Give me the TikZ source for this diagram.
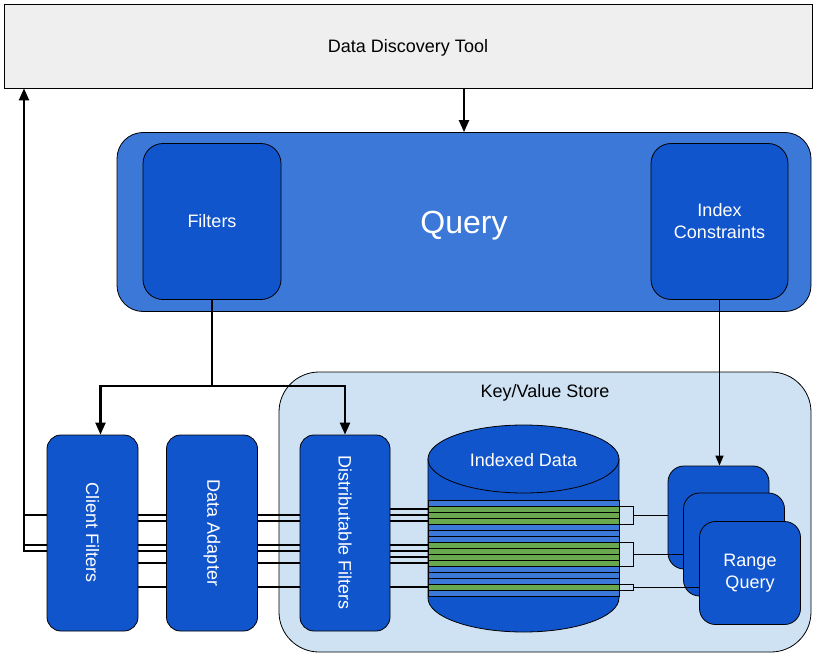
\documentclass[tikz,border=0pt]{standalone}
\usepackage{fontspec}
\setmainfont{Liberation Sans}
\usetikzlibrary{arrows.meta,positioning}
\definecolor{toolgray}{HTML}{EFEFEF}
\definecolor{qblue}{HTML}{3C78D8}
\definecolor{dblue}{HTML}{1155CC}
\definecolor{kvblue}{HTML}{CFE2F3}
\definecolor{sgreen}{HTML}{6AA84F}
\pgfdeclarelayer{back}
\pgfdeclarelayer{wires}
\pgfsetlayers{back,wires,main}

\begin{document}
\begin{tikzpicture}[x=1pt,y=-1pt,
    every node/.style={font=\fontsize{18}{22}\selectfont},
    box/.style={draw,line width=0.8pt,fill=dblue,text=white,inner sep=0pt,rounded corners=16pt},
    upright/.style={box,minimum width=91pt,minimum height=196pt,rounded corners=14pt},
    rangebox/.style={box,minimum width=101pt,minimum height=103pt},
    wire/.style={line width=2.2pt},
    fine wire/.style={line width=0.8pt},
    arr/.style={-{Triangle[length=12pt,width=10pt]}}]
    \useasboundingbox (0,0) rectangle (817,658);

    % top level
    \node[draw,line width=0.8pt,fill=toolgray,minimum width=808pt,minimum height=84pt,text depth=0pt] (ddt) at (408,46) {Data Discovery Tool};
    \node[box,fill=qblue,rounded corners=26pt,minimum width=694pt,minimum height=179pt,text depth=0pt,font=\fontsize{32}{38}\selectfont] (query) at (464,222) {Query};
    \node[box,minimum width=138pt,minimum height=156pt,rounded corners=20pt] (filt) at (212,221.5) {Filters};
    \node[box,minimum width=137pt,minimum height=156pt,rounded corners=20pt,align=center] (idx) at (719.5,221.5) {Index\\Constraints};
    \draw[wire,arr] (query.north |- ddt.south) -- (query.north);

    % key/value store
    \begin{pgfonlayer}{back}
        \node[draw,line width=0.8pt,fill=kvblue,rounded corners=40pt,minimum width=532pt,minimum height=280pt] (kv) at (545,512) {};
    \end{pgfonlayer}
    \node (kvlabel) at ([yshift=-21pt]kv.north) {Key/Value Store};

    \node[upright,label={[rotate=-90,text=white]center:Client Filters}] (cf) at (92.5,533) {};
    \node[upright,label={[rotate=-90,text=white]center:Data Adapter}] (da) at (212,533) {};
    \node[upright,minimum width=90pt,label={[rotate=-90,text=white]center:Distributable Filters}] (dfl) at (345,533) {};

    % indexed data
    \filldraw[fill=dblue,line width=0.8pt] (428,459) -- (428,598) arc[start angle=180,end angle=0,x radius=95.5,y radius=34] -- (619,459) -- cycle;
    \filldraw[fill=dblue,line width=0.8pt] (523.5,459) ellipse [x radius=95.5,y radius=34];
    \node[text=white] (cyl) at (523.5,460) {Indexed Data};
    \foreach \c [count=\i] in {qblue,sgreen,sgreen,sgreen,qblue,qblue,qblue,sgreen,sgreen,sgreen,sgreen,qblue,qblue,qblue,sgreen,qblue}
        \draw[fill=\c,line width=0.8pt] (428,{494+6*\i}) rectangle (619,{500+6*\i});
    \foreach \y [count=\i] in {509,515,521,545,551,557,563,587}
        \coordinate (g\i) at (428,\y);

    % range queries
    \node[rangebox] (rq1) at (718.5,517.5) {};
    \node[rangebox] (rq2) at (734,544.5) {};
    \node[rangebox,align=center] (rq3) at (750,573) {Range\\Query};

    \draw[fine wire] (619,506) -- (633,506) -- (633,524) -- (619,524);
    \draw[fine wire] (619,542) -- (633,542) -- (633,566) -- (619,566);
    \draw[fine wire] (619,584) -- (633,584) -- (633,590) -- (619,590);
    \coordinate (br1) at (633,515);
    \coordinate (br2) at (633,554);
    \coordinate (br3) at (633,587);
    \draw[fine wire] (br1) -- (rq1.west |- br1);
    \draw[fine wire] (br2) -- (rq2.west |- br2);
    \draw[fine wire] (br3) -- (rq3.west |- br3);

    % data paths
    \coordinate (upfoot) at (24,552);
    \begin{pgfonlayer}{wires}
        \foreach \i in {2,4,5}
            \draw[wire] (g\i) -- (upfoot |- g\i);
        \foreach \i in {3,7,8}
            \draw[wire] (g\i) -- (cf.west |- g\i);
        \foreach \i in {1,6}
            \draw[wire] (g\i) -- (dfl.west |- g\i);
    \end{pgfonlayer}
    \draw[wire,arr] (upfoot) -- (upfoot |- ddt.south);

    \coordinate (split) at (filt.south |- 0,386);
    \draw[wire] (filt.south) -- (split);
    \draw[wire,arr] (split) -| ([xshift=8pt]cf.north);
    \draw[wire,arr] (split) -| (dfl.north);
    \draw[line width=1.5pt,-{Triangle[length=10pt,width=8pt]}] (idx.south) -- (idx.south |- rq1.north);
\end{tikzpicture}
\end{document}
